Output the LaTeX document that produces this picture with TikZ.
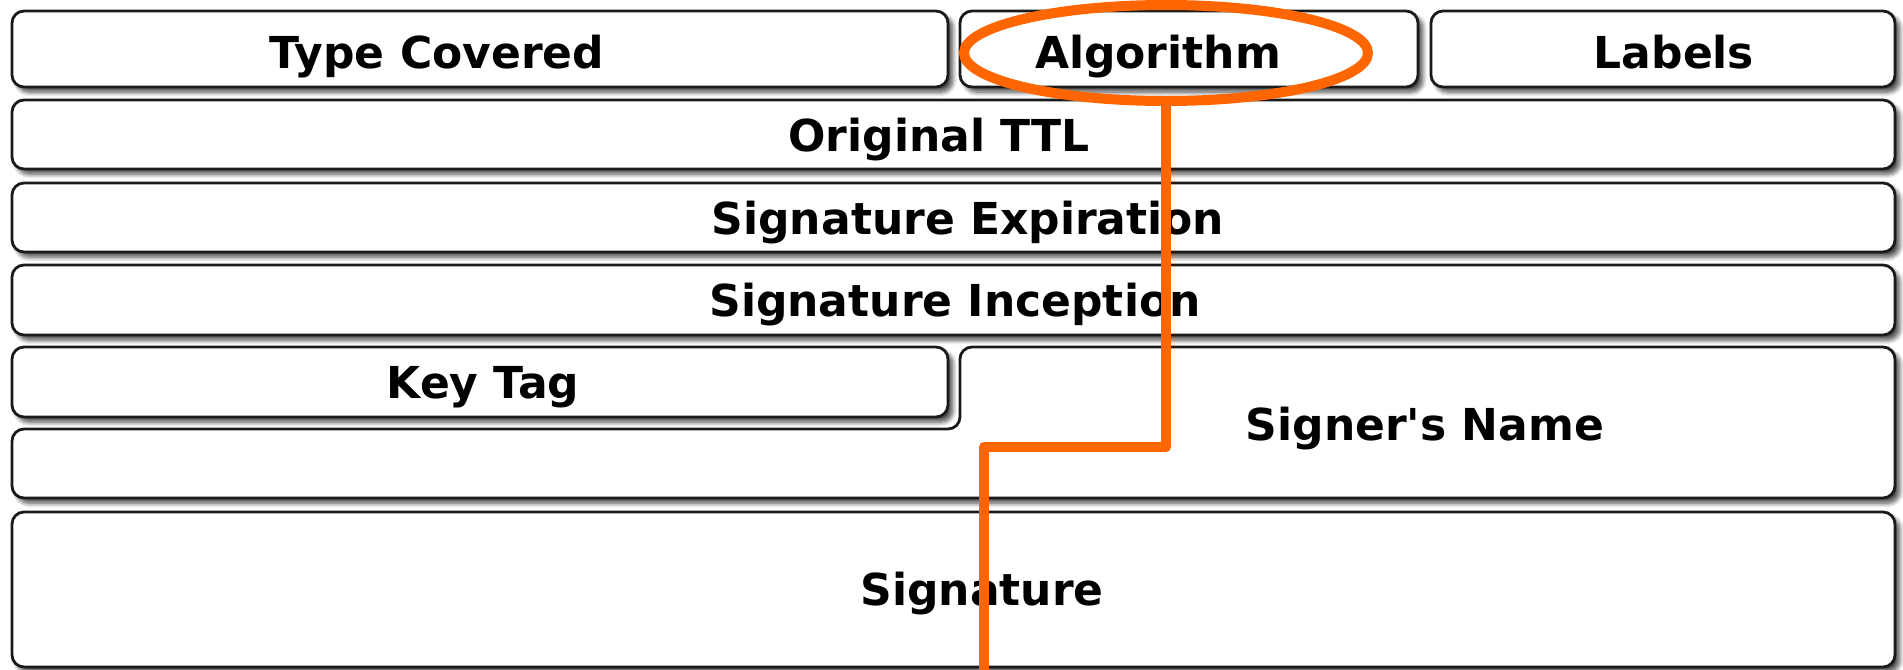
\documentclass[tikz,border=0pt]{standalone}
\usepackage{fontspec}
\setmainfont{DejaVu Sans}[Ligatures=TeXOff]
\usetikzlibrary{shapes.geometric,fit,shadows.blur}
\definecolor{hilite}{HTML}{FF6600}
\definecolor{edge}{HTML}{1A1A1A}
\tikzset{
  field/.style={draw=edge, line width=1.4pt, fill=white, rounded corners=6pt,
    inner sep=0pt, outer sep=0pt,
    blur shadow={shadow xshift=2.4pt, shadow yshift=-2.6pt, shadow blur radius=2.2pt,
      shadow blur steps=8, shadow opacity=70}},
  caption/.style={font=\bfseries\fontsize{22}{26}\selectfont, anchor=base, inner sep=0pt},
  marker/.style={draw=hilite, line width=5pt, line join=round, line cap=butt}
}
\begin{document}
\begin{tikzpicture}[x=0.5pt,y=-0.5pt]
  \useasboundingbox (0,0) rectangle (1903,670);

  % first row: three fields
  \node[field, fit={(12,11) (948,87)}] (type) {};
  \node[field, fit={(960,11) (1418,87)}] (algo) {};
  \node[field, fit={(1431,11) (1895,87)}] (labels) {};

  % full-width rows
  \node[field, fit={(12,100) (1895,169)}] (ttl) {};
  \node[field, fit={(12,183) (1895,252)}] (expire) {};
  \node[field, fit={(12,265) (1895,335)}] (incept) {};

  % signer's name wraps under the key tag
  \path[field] (1400,347) -- (1895,347) -- (1895,498) -- (12,498) -- (12,429)
    -- (960,429) -- (960,347) -- cycle;
  \node[field, fit={(12,347) (948,417)}] (keytag) {};

  % signature block
  \node[field, fit={(12,512) (1895,667)}] (sig) {};

  % field names
  \node[caption] (t-type)   at (437,68)  {Type Covered};
  \node[caption] (t-algo)   at (1158,68) {Algorithm};
  \node[caption] (t-labels) at (1674,68) {Labels};
  \node[caption] (t-ttl)    at (939,151) {Original TTL};
  \node[caption] (t-expire) at (968,234) {Signature Expiration};
  \node[caption] (t-incept) at (955,316) {Signature Inception};
  \node[caption] (t-key)    at (483,398) {Key Tag};
  \node[caption] (t-signer) at (1425,440) {Signer's Name};
  \node[caption] (t-sig)    at (982,605) {Signature};

  % highlight ring and its stepped lead line
  \node[ellipse, draw=hilite, line width=5pt, minimum width=202pt, minimum height=48pt,
        inner sep=0pt, outer sep=0pt] (ring) at (1166,53) {};
  \coordinate (jog) at (984,447);
  \coordinate (tail) at (984,680);
  \draw[marker] (ring.south) |- (jog) -- (tail);
\end{tikzpicture}
\end{document}
